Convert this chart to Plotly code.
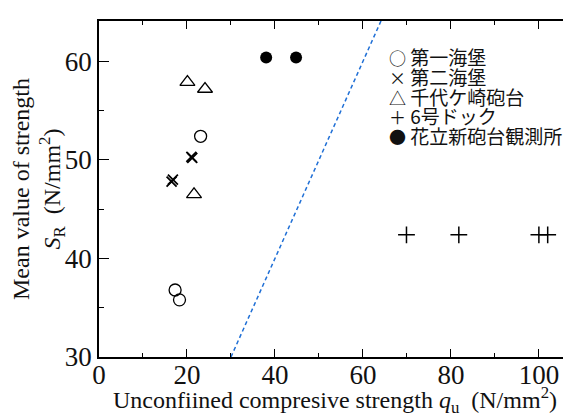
import plotly.graph_objects as go

# Data
s1_name = "第一海堡"
s1_x = [23.1, 17.3, 18.3]
s1_y = [52.4, 36.8, 35.8]

s2_name = "第二海堡"
s2_x = [21.2, 21.0, 16.5, 16.8]
s2_y = [50.2, 50.3, 47.8, 48.0]

s3_name = "千代ケ崎砲台"
s3_x = [20.1, 24.1, 21.6]
s3_y = [57.9, 57.2, 46.5]

s4_name = "6号ドック"
s4_x = [69.9, 81.8, 100.0, 102.0]
s4_y = [42.4, 42.4, 42.4, 42.4]

s5_name = "花立新砲台観測所"
s5_x = [38.0, 44.8]
s5_y = [60.4, 60.4]

ref_x = [30, 70]
ref_y = [30, 70]

legend_names = [s1_name, s2_name, s3_name, s4_name, s5_name]
legend_glyphs = ["○", "×", "△", "＋", "●"]

serif = "Liberation Serif, Times New Roman, serif"
cjk = "Noto Sans CJK JP"

# page is offset by the default 8px body margin
OFF = 8
W, H = 571 - OFF, 417 - OFF
ML, MT, MB, MR = 99 - OFF, 21 - OFF, 60, 0

fig = go.Figure()
fig.add_trace(go.Scatter(x=ref_x, y=ref_y, mode="lines", showlegend=False,
                         line=dict(color="#1f6fd6", width=1.5, dash="4px,3px")))
fig.add_trace(go.Scatter(x=s1_x, y=s1_y, mode="markers", name=s1_name, showlegend=False,
                         marker=dict(symbol="circle-open", size=12, color="black",
                                     line=dict(width=1.3, color="black"))))
fig.add_trace(go.Scatter(x=s2_x, y=s2_y, mode="markers", name=s2_name, showlegend=False,
                         marker=dict(symbol="x-thin-open", size=10, color="black",
                                     line=dict(width=1.8, color="black"))))
fig.add_trace(go.Scatter(x=s3_x, y=s3_y, mode="markers", name=s3_name, showlegend=False,
                         marker=dict(symbol="triangle-up-open", size=13, color="black",
                                     line=dict(width=1.3, color="black"))))
fig.add_trace(go.Scatter(x=s4_x, y=s4_y, mode="markers", name=s4_name, showlegend=False,
                         marker=dict(symbol="cross-thin-open", size=12, color="black",
                                     line=dict(width=1.5, color="black"))))
fig.add_trace(go.Scatter(x=s5_x, y=s5_y, mode="markers", name=s5_name, showlegend=False,
                         marker=dict(symbol="circle", size=12, color="black")))

# legend drawn as text rows
plot_w = W - ML - MR
plot_h = H - MT - MB
row_centers = [57, 77, 96, 115, 135]  # page pixel rows
leg_left = 387
for g, name, py in zip(legend_glyphs, legend_names, row_centers):
    fig.add_annotation(
        xref="paper", yref="paper",
        x=(leg_left - 99) / plot_w, y=(357 - py) / plot_h,
        xanchor="left", yanchor="middle", showarrow=False,
        text=f"<span style='font-size:17px'>{g}</span>&nbsp;{name}",
        font=dict(family=cjk, size=19, color="#111"),
    )

fig.update_layout(
    width=W, height=H,
    margin=dict(l=ML, r=MR, t=MT, b=MB, autoexpand=False),
    plot_bgcolor="white", paper_bgcolor="white",
    font=dict(family=serif, color="black"),
    showlegend=False,
    xaxis=dict(range=[0, 107.3], tickvals=[0, 20, 40, 60, 80, 100],
               ticks="inside", ticklen=8, tickwidth=1.3, tickcolor="black",
               minor=dict(ticks="inside", ticklen=4, dtick=10, tickwidth=1.3, tickcolor="black"),
               showline=True, linecolor="black", linewidth=1.5, mirror="ticks",
               showgrid=False, zeroline=False, automargin=False,
               ticklabelstandoff=-7,
               tickfont=dict(family=serif, size=27, color="#111"),
               title=dict(text="Unconfiined compresive strength <i>q</i><sub>u</sub>  (N/mm<sup>2</sup>)",
                          font=dict(family=serif, size=24, color="#111"), standoff=0)),
    yaxis=dict(range=[30, 64.1], tickvals=[30, 40, 50, 60],
               ticks="inside", ticklen=10, tickwidth=1.3, tickcolor="black",
               minor=dict(ticks="inside", ticklen=5, dtick=5, tickwidth=1.3, tickcolor="black"),
               showline=True, linecolor="black", linewidth=1.5, mirror=False,
               showgrid=False, zeroline=False, automargin=False,
               tickfont=dict(family=serif, size=27, color="#111"),
               title=dict(text="Mean value of strength<br><i>S</i><sub>R</sub>  (N/mm<sup>2</sup>)",
                          font=dict(family=serif, size=24, color="#111"), standoff=2)),
)

fig.write_html("out.html")
